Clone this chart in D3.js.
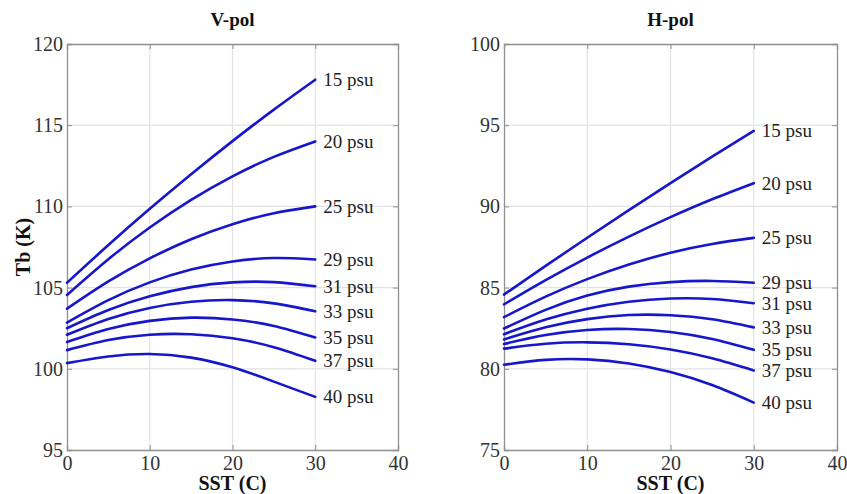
<!DOCTYPE html>
<html><head><meta charset="utf-8">
<script src="https://cdn.jsdelivr.net/npm/d3@7"></script>
<style>body{margin:0;background:#fff} svg{display:block}</style>
</head><body>
<svg id="c" width="847" height="494"></svg>
<script>
// ---- data ----
const sst = [0, 5, 10, 15, 20, 25, 30];
const salinityLabels = ["15 psu", "20 psu", "25 psu", "29 psu", "31 psu", "33 psu", "35 psu", "37 psu", "40 psu"];
const xTicks = [0, 10, 20, 30, 40];
const vTicks = [95, 100, 105, 110, 115, 120];
const hTicks = [75, 80, 85, 90, 95, 100];

// V-pol brightness temperature (K)
const v15 = [105.3, 107.62, 109.85, 111.98, 114.02, 115.96, 117.8];
const v20 = [104.55, 106.75, 108.7, 110.4, 111.85, 113.05, 114.0];
const v25 = [103.7, 105.38, 106.8, 107.98, 108.9, 109.58, 110.0];
const v29 = [102.85, 104.23, 105.32, 106.11, 106.61, 106.82, 106.73];
const v31 = [102.5, 103.62, 104.46, 105.03, 105.32, 105.34, 105.08];
const v33 = [102.1, 103.07, 103.75, 104.13, 104.23, 104.03, 103.54];
const v35 = [101.65, 102.45, 102.95, 103.15, 103.04, 102.64, 101.93];
const v37 = [101.15, 101.77, 102.1, 102.13, 101.88, 101.33, 100.49];
const v40 = [100.35, 100.76, 100.91, 100.69, 100.09, 99.21, 98.27];

// H-pol brightness temperature (K)
const h15 = [84.57, 86.34, 88.07, 89.77, 91.43, 93.06, 94.65];
const h20 = [83.97, 85.46, 86.85, 88.14, 89.34, 90.44, 91.43];
const h25 = [83.18, 84.44, 85.52, 86.42, 87.15, 87.69, 88.06];
const h29 = [82.48, 83.63, 84.51, 85.06, 85.34, 85.41, 85.3];
const h31 = [82.13, 83.03, 83.7, 84.13, 84.33, 84.3, 84.04];
const h33 = [81.81, 82.56, 83.06, 83.31, 83.3, 83.05, 82.55];
const h35 = [81.53, 82.08, 82.39, 82.45, 82.27, 81.84, 81.17];
const h37 = [81.24, 81.54, 81.63, 81.51, 81.19, 80.65, 79.9];
const h40 = [80.25, 80.55, 80.58, 80.33, 79.8, 79.0, 77.92];

const vSeries = [v15, v20, v25, v29, v31, v33, v35, v37, v40];
const hSeries = [h15, h20, h25, h29, h31, h33, h35, h37, h40];

// ---- drawing ----
const svg = d3.select("#c");
const FONT = "'Liberation Serif','Times New Roman',serif";
const LINE = "#1616cc";
const BOX = "#909090";
const GRID = "#e2e2e2";

function panel(cfg) {
  const x = d3.scaleLinear().domain([0, 40]).range([cfg.x0, cfg.x1]);
  const y = d3.scaleLinear().domain(cfg.ydom).range([cfg.y1, cfg.y0]);
  const g = svg.append("g");

  // grid
  g.selectAll(".gx").data(xTicks.slice(1, -1)).join("line")
    .attr("x1", d => x(d)).attr("x2", d => x(d))
    .attr("y1", cfg.y0).attr("y2", cfg.y1)
    .attr("stroke", GRID).attr("stroke-width", 1.2);
  g.selectAll(".gy").data(cfg.yticks.slice(1, -1)).join("line")
    .attr("x1", cfg.x0).attr("x2", cfg.x1)
    .attr("y1", d => y(d)).attr("y2", d => y(d))
    .attr("stroke", GRID).attr("stroke-width", 1.2);

  // axes (D3 axes, inward ticks, MATLAB style)
  const ax = d3.axisBottom(x).tickValues(xTicks).tickSize(-5).tickPadding(6).tickFormat(d3.format("d"));
  const ay = d3.axisLeft(y).tickValues(cfg.yticks).tickSize(-5).tickPadding(4).tickFormat(d3.format("d"));
  const axT = d3.axisTop(x).tickValues(xTicks).tickSize(-5).tickFormat("");
  const ayR = d3.axisRight(y).tickValues(cfg.yticks).tickSize(-5).tickFormat("");
  const gb = g.append("g").attr("transform", `translate(0,${cfg.y1})`).call(ax);
  const gl = g.append("g").attr("transform", `translate(${cfg.x0},0)`).call(ay);
  const gt = g.append("g").attr("transform", `translate(0,${cfg.y0})`).call(axT);
  const gr = g.append("g").attr("transform", `translate(${cfg.x1},0)`).call(ayR);
  [gb, gl, gt, gr].forEach(a => {
    a.select(".domain").attr("stroke", BOX).attr("stroke-width", 1.3);
    a.selectAll(".tick line").attr("stroke", BOX).attr("stroke-width", 1);
    a.selectAll("text").attr("fill", "#333").attr("font-family", FONT).attr("font-size", 20);
  });

  // curves
  const line = d3.line().x((d, i) => x(sst[i])).y(d => y(d)).curve(d3.curveNatural);
  g.selectAll(".curve").data(cfg.series).join("path")
    .attr("d", line).attr("fill", "none")
    .attr("stroke", LINE).attr("stroke-width", 2.6).attr("stroke-linecap", "round");

  // labels
  g.selectAll(".lab").data(cfg.series).join("text")
    .attr("x", x(30) + 8).attr("y", d => y(d[d.length - 1]))
    .attr("dominant-baseline", "central")
    .attr("font-family", FONT).attr("font-size", 19).attr("fill", "#222")
    .text((d, i) => salinityLabels[i]);

  // title and x label
  g.append("text").attr("x", (cfg.x0 + cfg.x1) / 2).attr("y", 26)
    .attr("text-anchor", "middle").attr("font-family", FONT).attr("font-weight", "bold")
    .attr("font-size", 19).attr("fill", "#111").text(cfg.title);
  g.append("text").attr("x", (cfg.x0 + cfg.x1) / 2).attr("y", 490)
    .attr("text-anchor", "middle").attr("font-family", FONT).attr("font-weight", "bold")
    .attr("font-size", 20).attr("fill", "#111").text("SST (C)");
  if (cfg.ylabel) {
    g.append("text").attr("transform", `translate(30,${(cfg.y0 + cfg.y1) / 2}) rotate(-90)`)
      .attr("text-anchor", "middle").attr("font-family", FONT).attr("font-weight", "bold")
      .attr("font-size", 20).attr("fill", "#111").text(cfg.ylabel);
  }
}

panel({x0: 67, x1: 398, y0: 44, y1: 450, ydom: [95, 120], yticks: vTicks, series: vSeries, title: "V-pol", ylabel: "Tb (K)"});
panel({x0: 504, x1: 837, y0: 44, y1: 450, ydom: [75, 100], yticks: hTicks, series: hSeries, title: "H-pol"});
</script>
</body></html>
